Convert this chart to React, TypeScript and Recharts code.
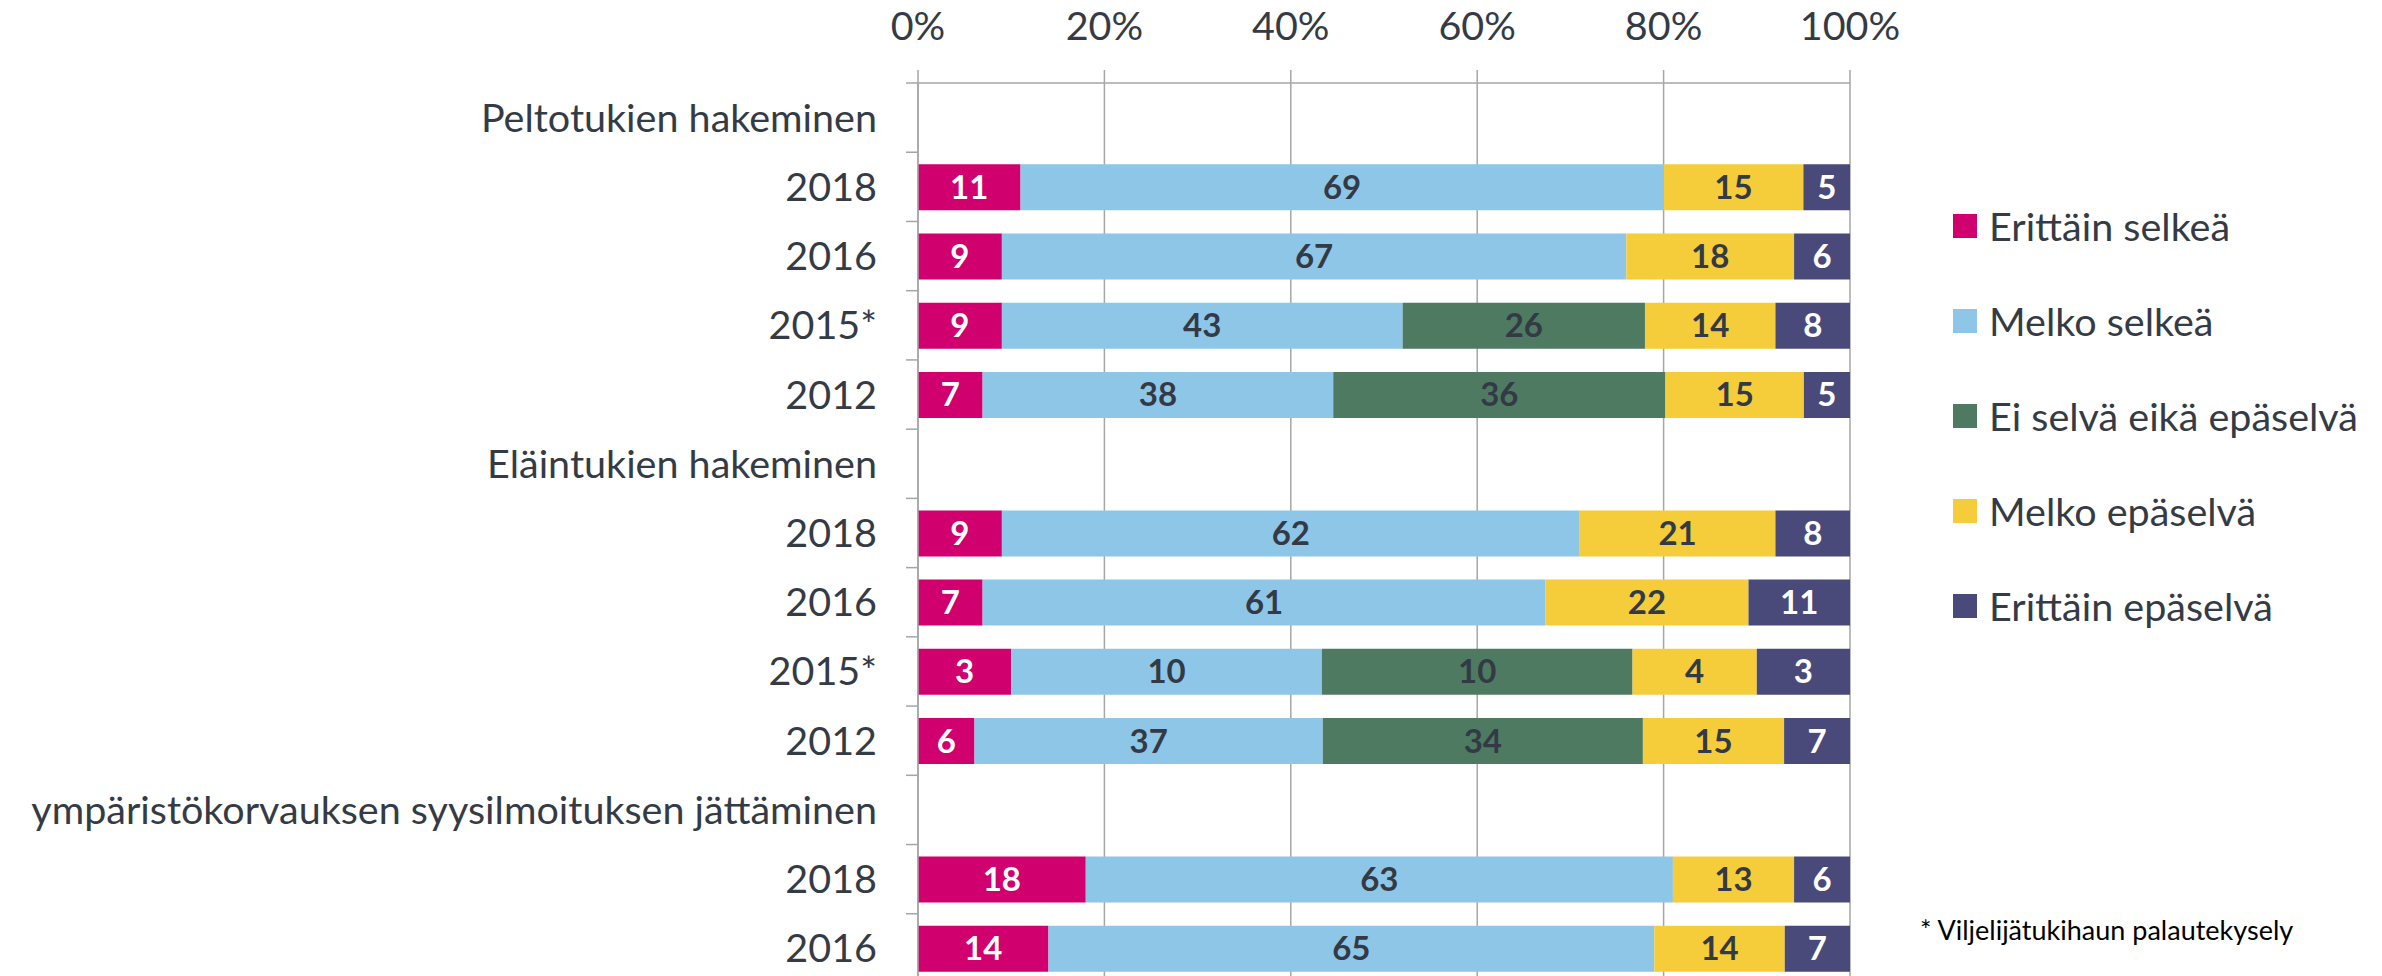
import React from 'react';
import { BarChart, Bar, XAxis, YAxis, CartesianGrid, LabelList, Legend } from 'recharts';

const categoryKeys = ['pelto', 'p2018', 'p2016', 'p2015', 'p2012', 'elain', 'e2018', 'e2016', 'e2015', 'e2012', 'ymp', 'y2018', 'y2016'];
const categoryLabels = [
  'Peltotukien hakeminen', '2018', '2016', '2015*', '2012',
  'Eläintukien hakeminen', '2018', '2016', '2015*', '2012',
  'ympäristökorvauksen syysilmoituksen jättäminen', '2018', '2016',
];

const erittainSelkea = [null, 11, 9, 9, 7, null, 9, 7, 3, 6, null, 18, 14];
const melkoSelkea = [null, 69, 67, 43, 38, null, 62, 61, 10, 37, null, 63, 65];
const eiSelva = [null, null, null, 26, 36, null, null, null, 10, 34, null, null, null];
const melkoEpaselva = [null, 15, 18, 14, 15, null, 21, 22, 4, 15, null, 13, 14];
const erittainEpaselva = [null, 5, 6, 8, 5, null, 8, 11, 3, 7, null, 6, 7];

const seriesNames = ['Erittäin selkeä', 'Melko selkeä', 'Ei selvä eikä epäselvä', 'Melko epäselvä', 'Erittäin epäselvä'];
const seriesColors = ['#D0006F', '#8EC6E8', '#4E7A62', '#F5CD3A', '#4A4A7A'];
const labelColors = ['#FFFFFF', '#333A45', '#333A45', '#333A45', '#FFFFFF'];
const xTicks = [0, 0.2, 0.4, 0.6, 0.8, 1];
const footnote = '* Viljelijätukihaun palautekysely';

const seriesValues = [erittainSelkea, melkoSelkea, eiSelva, melkoEpaselva, erittainEpaselva];
const seriesKeys = ['s1', 's2', 's3', 's4', 's5'];

const data = categoryKeys.map((key, i) => {
  const row: any = { key, label: categoryLabels[i] };
  seriesKeys.forEach((sk, j) => {
    row[sk] = seriesValues[j][i];
  });
  return row;
});

const FONT = 'Lato, "Open Sans", sans-serif';
const TEXT = '#353B45';
const GRID = '#A6A6A6';

const YTick = (props: any) => {
  const { x, y, payload, index } = props;
  const half = payload && typeof payload.offset === 'number' && payload.offset > 0 ? payload.offset : 34.6;
  const label = categoryLabels[index] ?? '';
  return (
    <g>
      <line x1={918 - 12} x2={918} y1={y - half} y2={y - half} stroke={GRID} strokeWidth={1.5} />
      <text x={x} y={y + 14} textAnchor="end" fill={TEXT} fontSize={39.5} fontFamily={FONT}>
        {label}
      </text>
    </g>
  );
};

const makeLabel = (color: string) => (props: any) => {
  const { x, y, width, height, value } = props;
  if (value === null || value === undefined || !width) return null;
  return (
    <text
      x={x + width / 2}
      y={y + height / 2 + 11.5}
      textAnchor="middle"
      fill={color}
      fontSize={33}
      fontWeight={700}
      fontFamily={FONT}
    >
      {value}
    </text>
  );
};

const LegendContent = (props: any) => {
  const items = [...(props.payload || [])].sort(
    (a: any, b: any) => seriesNames.indexOf(a.value) - seriesNames.indexOf(b.value)
  );
  return (
    <div style={{ fontFamily: FONT }}>
      {items.map((it: any, i: number) => (
        <div key={i} style={{ height: 95, display: 'flex', alignItems: 'center' }}>
          <span style={{ display: 'inline-block', width: 24, height: 24, background: it.color, marginRight: 12, flex: 'none' }} />
          <span style={{ fontSize: 39.5, color: TEXT, whiteSpace: 'nowrap' }}>{it.value}</span>
        </div>
      ))}
    </div>
  );
};

export default function App() {
  return (
    <div style={{ position: 'absolute', left: 0, top: 0, width: 2382, height: 976, overflow: 'hidden', background: '#fff' }}>
      <BarChart
        width={2382}
        height={983}
        data={data}
        layout="vertical"
        stackOffset="expand"
        margin={{ top: 0, right: 532, bottom: 0, left: 0 }}
      >
        <CartesianGrid horizontal={false} vertical={true} stroke={GRID} strokeWidth={1.5} />
        <XAxis
          type="number"
          orientation="top"
          domain={[0, 1]}
          ticks={xTicks}
          tickFormatter={(v: number) => `${Math.round(v * 100)}%`}
          height={83}
          tickSize={13}
          tickMargin={30}
          axisLine={{ stroke: GRID, strokeWidth: 1.5 }}
          tickLine={{ stroke: GRID, strokeWidth: 1.5 }}
          tick={{ fill: TEXT, fontSize: 39.5, fontFamily: FONT }}
          interval={0}
        />
        <YAxis
          type="category"
          dataKey="key"
          width={918}
          axisLine={{ stroke: GRID, strokeWidth: 1.5 }}
          tickLine={false}
          tickSize={12}
          tickMargin={29}
          tick={<YTick />}
          interval={0}
        />
        {seriesKeys.map((sk, j) => (
          <Bar key={sk} dataKey={sk} name={seriesNames[j]} stackId="a" fill={seriesColors[j]} barSize={46} isAnimationActive={false}>
            <LabelList dataKey={sk} content={makeLabel(labelColors[j])} />
          </Bar>
        ))}
        <Legend
          layout="horizontal"
          verticalAlign="middle"
          align="center"
          content={<LegendContent />}
          wrapperStyle={{ left: 1953, top: 178, width: 429, height: 480 }}
        />
      </BarChart>
      <div
        style={{
          position: 'absolute',
          left: 1920,
          top: 914,
          fontFamily: FONT,
          fontSize: 27,
          lineHeight: '32px',
          color: '#000',
          whiteSpace: 'nowrap',
        }}
      >
        {footnote}
      </div>
    </div>
  );
}
